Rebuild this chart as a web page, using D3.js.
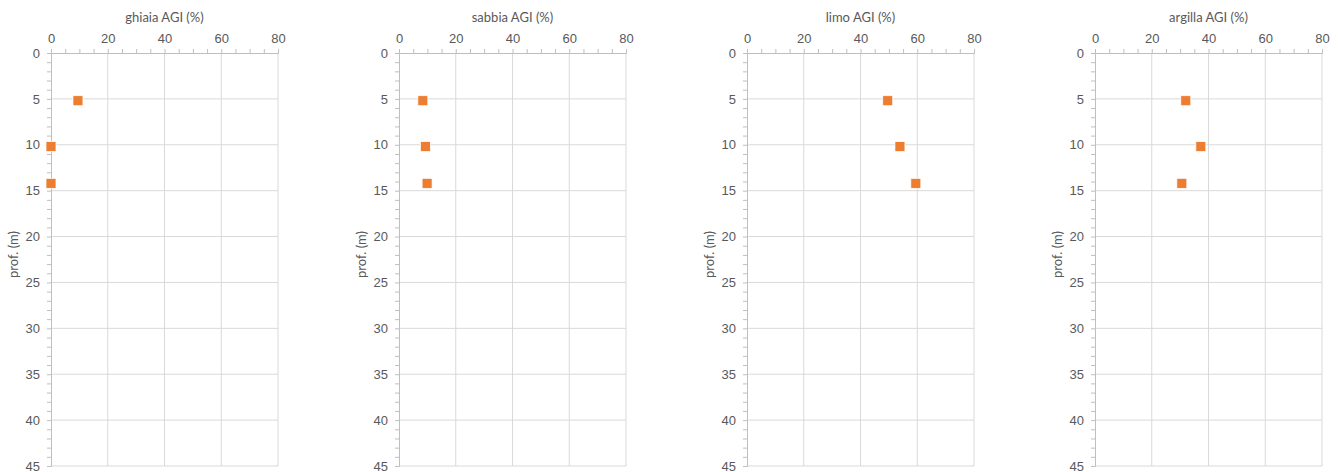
<!DOCTYPE html>
<html>
<head>
<meta charset="utf-8">
<script src="https://cdn.jsdelivr.net/npm/d3@7"></script>
<style>
  body { margin: 0; background: #fff; }
  svg { display: block; font-family: Lato, "Open Sans", sans-serif; }
</style>
</head>
<body>
<svg id="chart" width="1338" height="472"></svg>
<script>
// depths of the samples (m)
const depths = [5.2, 10.2, 14.2];

// grain size fractions (%) per sample
const panels = ['ghiaia AGI (%)', 'sabbia AGI (%)', 'limo AGI (%)', 'argilla AGI (%)'];
const ghiaia = [9.5, 0, 0];
const sabbia = [8.4, 9.3, 9.9];
const limo = [49.6, 53.9, 59.5];
const argilla = [32.0, 37.3, 30.6];
const seriesValues = [ghiaia, sabbia, limo, argilla];

const xTicks = [0, 20, 40, 60, 80];
const yTicks = [0, 5, 10, 15, 20, 25, 30, 35, 40, 45];

const svg = d3.select('#chart');
const plotW = 227, plotH = 413, plotTop = 53, step = 348, left0 = 51;
const textColor = '#595959';

panels.forEach((title, i) => {
  const g = svg.append('g').attr('transform', `translate(${left0 + i * step}, ${plotTop})`);

  const x = d3.scaleLinear().domain([0, 80]).range([0, plotW]);
  const y = d3.scaleLinear().domain([0, 45]).range([0, plotH]);

  // gridlines
  g.append('g').selectAll('line')
    .data(xTicks.slice(1))
    .enter().append('line')
    .attr('x1', d => x(d)).attr('x2', d => x(d))
    .attr('y1', 0).attr('y2', plotH)
    .attr('stroke', '#d9d9d9').attr('stroke-width', 1);

  g.append('g').selectAll('line')
    .data(yTicks.slice(1))
    .enter().append('line')
    .attr('x1', 0).attr('x2', plotW)
    .attr('y1', d => y(d)).attr('y2', d => y(d))
    .attr('stroke', '#d9d9d9').attr('stroke-width', 1);

  // minor ticks
  const xAxisMinor = d3.axisTop(x).tickValues(d3.range(0, 81, 5)).tickSize(4).tickFormat('');
  const yAxisMinor = d3.axisLeft(y).tickValues(d3.range(0, 46, 1)).tickSize(4).tickFormat('');
  g.append('g').call(xAxisMinor).call(a => a.selectAll('line,path').attr('stroke', '#bfbfbf'));
  g.append('g').call(yAxisMinor).call(a => a.selectAll('line,path').attr('stroke', '#bfbfbf'));

  // major labels
  const xAxis = d3.axisTop(x).tickValues(xTicks).tickSize(0).tickPadding(10);
  const yAxis = d3.axisLeft(y).tickValues(yTicks).tickSize(0).tickPadding(11);
  g.append('g').call(xAxis)
    .call(a => a.select('.domain').remove())
    .selectAll('text').attr('fill', textColor).style('font-size', '13px');
  g.append('g').call(yAxis)
    .call(a => a.select('.domain').remove())
    .selectAll('text').attr('fill', textColor).style('font-size', '13px');

  // titles
  g.append('text')
    .attr('x', plotW / 2).attr('y', -31)
    .attr('text-anchor', 'middle')
    .attr('fill', textColor)
    .style('font-size', '13px')
    .text(title);

  g.append('text')
    .attr('transform', `translate(-33, ${plotH / 2 - 5}) rotate(-90)`)
    .attr('text-anchor', 'middle')
    .attr('fill', textColor)
    .style('font-size', '13px')
    .text('prof. (m)');

  // markers
  const pts = depths.map((d, k) => ({ depth: d, value: seriesValues[i][k] }));
  const s = 10;
  g.append('g').selectAll('rect')
    .data(pts)
    .enter().append('rect')
    .attr('x', d => x(d.value) - s / 2)
    .attr('y', d => y(d.depth) - s / 2)
    .attr('width', s).attr('height', s)
    .attr('fill', '#ed7d31')
    .attr('stroke', '#fff')
    .attr('stroke-width', 0.75);
});
</script>
</body>
</html>
